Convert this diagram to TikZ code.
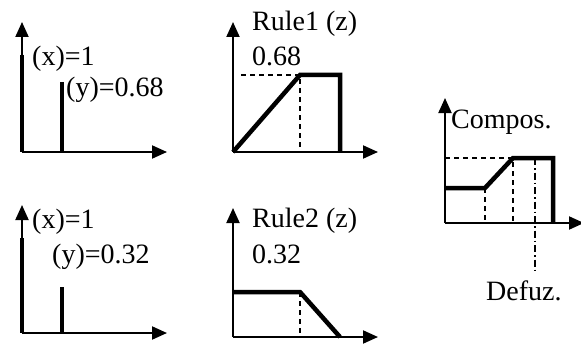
\documentclass[tikz,border=0pt]{standalone}
\usepackage{fontspec}
\setmainfont{Liberation Serif}
\usetikzlibrary{arrows.meta}
\begin{document}
\begin{tikzpicture}[x=1pt,y=-1pt,
  axis/.style={line width=2pt,-{Triangle[length=15pt,width=13pt]}},
  heavy/.style={line width=4.5pt,line join=miter},
  guide/.style={line width=1.5pt,dash pattern=on 5pt off 4pt},
  dashdot/.style={line width=1.5pt,dash pattern=on 7pt off 3pt on 1.5pt off 3pt},
  lbl/.style={anchor=west,inner sep=0pt,font=\fontsize{28}{34}\selectfont}]
\useasboundingbox (0,0) rectangle (581,345);
% Panel 1
\coordinate (o1) at (22,152); \coordinate (y1) at (22,22); \coordinate (x1) at (167,152);
\coordinate (b1) at (22,55); \coordinate (s1t) at (62,82); \coordinate (s1b) at (62,152);
\draw[axis] (o1) -- (y1);
\draw[axis] (o1) -- (x1);
\draw[heavy] (b1) -- (o1);
\draw[heavy] (s1t) -- (s1b);
\node[lbl] (lx1) at (32,59) {(x)=1};
\node[lbl] (ly1) at (66,90) {(y)=0.68};
% Panel 2
\coordinate (o2) at (233,152); \coordinate (y2) at (233,22); \coordinate (x2) at (378,152);
\coordinate (p2a) at (300,75); \coordinate (p2b) at (340,75); \coordinate (p2c) at (340,152);
\coordinate (d2a) at (241,75); \coordinate (d2b) at (300,152);
\draw[axis] (o2) -- (y2);
\draw[axis] (o2) -- (x2);
\draw[guide] (d2a) -- (p2a) -- (d2b);
\draw[heavy] (o2) -- (p2a) -- (p2b) -- (p2c);
\node[lbl] (r1) at (252,24) {Rule1 (z)};
\node[lbl] (v1) at (252,56) {0.68};
% Panel 3
\coordinate (o3) at (22,333); \coordinate (y3) at (22,205); \coordinate (x3) at (167,333);
\coordinate (b3) at (22,238); \coordinate (s3t) at (62,287); \coordinate (s3b) at (62,333);
\draw[axis] (o3) -- (y3);
\draw[axis] (o3) -- (x3);
\draw[heavy] (b3) -- (o3);
\draw[heavy] (s3t) -- (s3b);
\node[lbl] (lx3) at (32,222) {(x)=1};
\node[lbl] (ly3) at (52,257) {(y)=0.32};
% Panel 4
\coordinate (o4) at (233,337); \coordinate (y4) at (233,208); \coordinate (x4) at (378,337);
\coordinate (p4a) at (233,292); \coordinate (p4b) at (300,292); \coordinate (p4c) at (340,337);
\coordinate (d4b) at (300,337);
\draw[axis] (o4) -- (y4);
\draw[axis] (o4) -- (x4);
\draw[guide] (p4b) -- (d4b);
\draw[heavy] (p4a) -- (p4b) -- (p4c);
\node[lbl] (r2) at (252,221) {Rule2 (z)};
\node[lbl] (v2) at (252,254) {0.32};
% Panel 5
\coordinate (o5) at (445,223); \coordinate (y5) at (445,98); \coordinate (x5) at (584,223);
\coordinate (q1) at (445,188); \coordinate (q2) at (485,188); \coordinate (q3) at (513,158);
\coordinate (q4) at (553,158); \coordinate (q5) at (553,223);
\coordinate (g1) at (445,158); \coordinate (g2) at (485,223); \coordinate (g3) at (513,223);
\coordinate (c1) at (535,158); \coordinate (c2) at (535,273);
\draw[axis] (o5) -- (y5);
\draw[axis] (o5) -- (x5);
\draw[guide] (g1) -- (q3) -- (g3);
\draw[guide] (q2) -- (g2);
\draw[dashdot] (c1) -- (c2);
\draw[heavy] (q1) -- (q2) -- (q3) -- (q4) -- (q5);
\node[lbl] (cp) at (451,122) {Compos.};
\node[lbl] (df) at (486,291) {Defuz.};
\end{tikzpicture}
\end{document}
